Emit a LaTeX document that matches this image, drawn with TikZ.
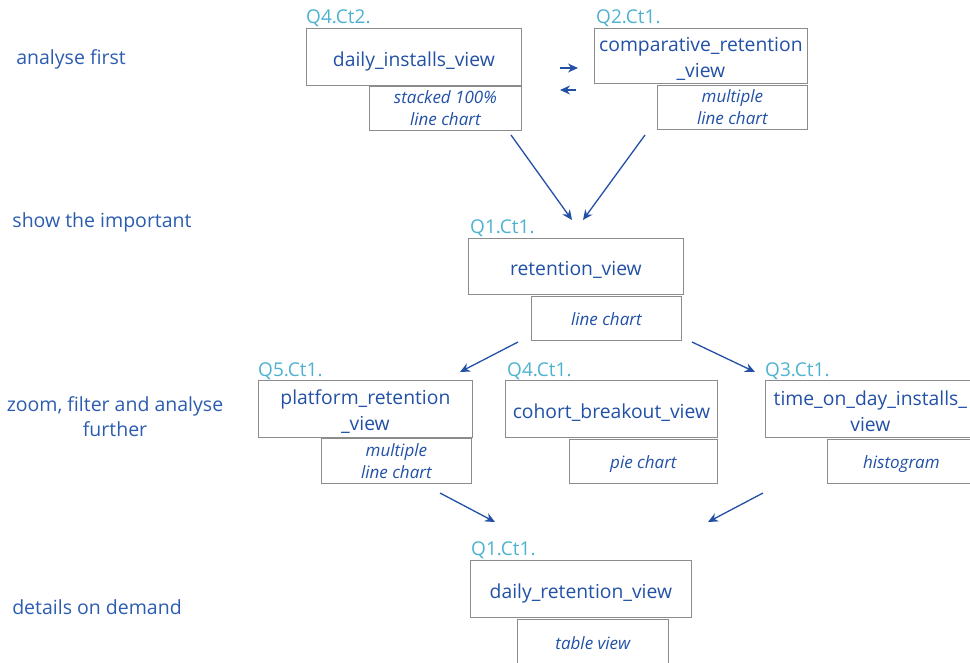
\documentclass[tikz,border=0pt]{standalone}
\usepackage{fontspec}
\setmainfont{Open Sans}
\usetikzlibrary{arrows.meta}
\definecolor{ink}{HTML}{2150A6}
\definecolor{stage}{HTML}{2C5CB0}
\definecolor{tag}{HTML}{4DB2CF}
\definecolor{frame}{HTML}{8C8C8C}
% strut that lowers a two-line view title a little inside its box
\newcommand{\titlestrut}{\rule{0pt}{20pt}}
\tikzset{
  viewbox/.style={draw=frame, line width=0.8pt, inner sep=0pt, align=center,
    text=ink, font=\fontsize{19.3}{26}\selectfont, anchor=north west},
  oneline/.style={text height=19pt, text depth=0pt},
  chartbox/.style={draw=frame, line width=0.8pt, inner sep=0pt, align=center,
    text=ink, font=\fontsize{17}{22}\selectfont\itshape, anchor=north west},
  chartline/.style={text height=15pt, text depth=1pt},
  qtag/.style={anchor=base west, inner sep=0pt, text=tag,
    font=\fontsize{19}{22}\selectfont},
  stagelabel/.style={align=center, text=stage, inner sep=0pt,
    font=\fontsize{19.5}{25}\selectfont},
  flow/.style={draw=ink, line width=1.3pt, -{Stealth[length=10pt,width=9pt]}},
}
\begin{document}
\begin{tikzpicture}[x=1pt,y=-1pt]
\useasboundingbox (0,0) rectangle (970,662);
\clip (0,0) rectangle (970,662);

% stage labels on the left
\node[stagelabel] (s1) at (71,59) {analyse first};
\node[stagelabel] (s2) at (102,222) {show the important};
\node[stagelabel] (s3) at (115,417) {zoom, filter and analyse\\further};
\node[stagelabel] (s4) at (97,607) {details on demand};

% analyse first
\node[qtag] (qa) at (306,23) {Q4.Ct2.};
\node[viewbox, oneline, minimum width=215pt, minimum height=57pt] (va) at (306,28) {daily\_installs\_view};
\node[chartbox, minimum width=152pt, minimum height=44pt] (ca) at (369,86) {stacked 100\%\\line chart};

\node[qtag] (qb) at (596,23) {Q2.Ct1.};
\node[viewbox, minimum width=213pt, minimum height=55pt] (vb) at (594,28) {\titlestrut comparative\_retention\\\_view};
\node[chartbox, minimum width=150pt, minimum height=44pt] (cb) at (657,85) {multiple\\line chart};

% show the important
\node[qtag] (qc) at (470,233) {Q1.Ct1.};
\node[viewbox, oneline, minimum width=215pt, minimum height=56pt] (vc) at (468,238) {retention\_view};
\node[chartbox, chartline, minimum width=150pt, minimum height=44pt] (cc) at (531,296) {line chart};

% zoom, filter and analyse further
\node[qtag] (qd) at (258,376) {Q5.Ct1.};
\node[viewbox, minimum width=214pt, minimum height=57pt] (vd) at (258,380) {\titlestrut platform\_retention\\\_view};
\node[chartbox, minimum width=150pt, minimum height=45pt] (cd) at (321,438) {multiple\\line chart};

\node[qtag] (qe) at (507,376) {Q4.Ct1.};
\node[viewbox, oneline, minimum width=212pt, minimum height=57pt] (ve) at (505,380) {cohort\_breakout\_view};
\node[chartbox, chartline, minimum width=148pt, minimum height=44pt] (ce) at (569,439) {pie chart};

\node[qtag] (qf) at (765,376) {Q3.Ct1.};
\node[viewbox, minimum width=210pt, minimum height=57pt] (vf) at (765,380) {\titlestrut time\_on\_day\_installs\_\\view};
\node[chartbox, chartline, minimum width=148pt, minimum height=44pt] (cf) at (827,439) {histogram};

% details on demand
\node[qtag] (qg) at (471,555) {Q1.Ct1.};
\node[viewbox, oneline, minimum width=221pt, minimum height=57pt] (vg) at (470,560) {daily\_retention\_view};
\node[chartbox, chartline, minimum width=151pt, minimum height=46pt] (cg) at (517,619) {table view};

% connector ends
\coordinate (h1a) at (560,68);  \coordinate (h1b) at (578,68);
\coordinate (h2a) at (576,90);  \coordinate (h2b) at (560,90);
\coordinate (a1a) at (511,135); \coordinate (a1b) at (572,220);
\coordinate (a2a) at (645,135); \coordinate (a2b) at (583,220);
\coordinate (a3a) at (518,342); \coordinate (a3b) at (460,372);
\coordinate (a4a) at (692,342); \coordinate (a4b) at (755,372);
\coordinate (a5a) at (440,493); \coordinate (a5b) at (495,522);
\coordinate (a6a) at (763,493); \coordinate (a6b) at (708,522);

\draw[flow] (h1a) -- (h1b);
\draw[flow] (h2a) -- (h2b);
\draw[flow] (a1a) -- (a1b);
\draw[flow] (a2a) -- (a2b);
\draw[flow] (a3a) -- (a3b);
\draw[flow] (a4a) -- (a4b);
\draw[flow] (a5a) -- (a5b);
\draw[flow] (a6a) -- (a6b);
\end{tikzpicture}
\end{document}
